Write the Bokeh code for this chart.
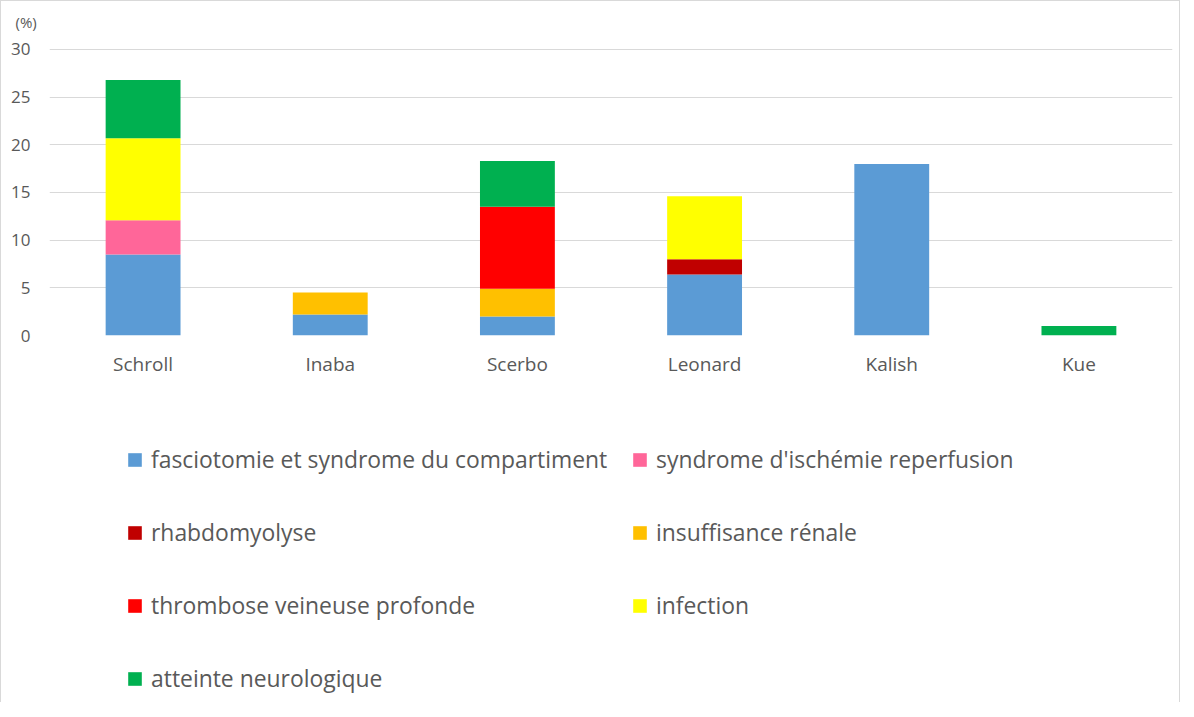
from bokeh.plotting import figure
from bokeh.models import Range1d, FactorRange, Legend, LegendItem, Title, ColumnDataSource
from bokeh.layouts import column
from bokeh.embed import file_html
from bokeh.resources import INLINE

categories = ["Schroll", "Inaba", "Scerbo", "Leonard", "Kalish", "Kue"]
series_names = [
    "fasciotomie et syndrome du compartiment",
    "syndrome d'ischémie reperfusion",
    "rhabdomyolyse",
    "insuffisance rénale",
    "thrombose veineuse profonde",
    "infection",
    "atteinte neurologique",
]
fasciotomie = [8.5, 2.2, 2.0, 6.4, 18.0, 0.0]
ischemie = [3.6, 0.0, 0.0, 0.0, 0.0, 0.0]
rhabdomyolyse = [0.0, 0.0, 0.0, 1.6, 0.0, 0.0]
insuffisance = [0.0, 2.3, 2.9, 0.0, 0.0, 0.0]
thrombose = [0.0, 0.0, 8.6, 0.0, 0.0, 0.0]
infection = [8.6, 0.0, 0.0, 6.6, 0.0, 0.0]
neurologique = [6.1, 0.0, 4.8, 0.0, 0.0, 1.0]
colors = ["#5B9BD5", "#FF6699", "#C00000", "#FFC000", "#FF0000", "#FFFF00", "#00B050"]
y_ticks = [0, 5, 10, 15, 20, 25, 30]
unit_label = "(%)"

keys = ["s0", "s1", "s2", "s3", "s4", "s5", "s6"]
data = dict(cat=categories)
for k, vals in zip(keys, [fasciotomie, ischemie, rhabdomyolyse, insuffisance,
                          thrombose, infection, neurologique]):
    data[k] = vals
source = ColumnDataSource(data)

FONT = "Open Sans"
GREY = "#595959"

# ---- main chart ----
p = figure(width=1178, height=399, x_range=FactorRange(*categories, range_padding=0),
           y_range=Range1d(0, 31.15), output_backend="svg", toolbar_location=None,
           min_border_left=48, min_border_right=7, min_border_top=37,
           min_border_bottom=65)
p.vbar_stack(keys, x="cat", width=0.4, color=colors, line_color=None, source=source)

p.outline_line_color = None
p.xgrid.grid_line_color = None
p.ygrid.grid_line_color = "#d9d9d9"
p.ygrid.grid_line_width = 1
p.yaxis.ticker = y_ticks
for ax in (p.xaxis[0], p.yaxis[0]):
    ax.axis_line_color = None
    ax.major_tick_line_color = None
    ax.minor_tick_line_color = None
    ax.major_label_text_font = FONT
    ax.major_label_text_color = GREY
p.xaxis.major_label_text_font_size = "19px"
p.yaxis.major_label_text_font_size = "17px"
p.xaxis.major_label_standoff = 9
p.yaxis.major_label_standoff = 13

p.add_layout(Title(text=unit_label, align="left", offset=-34, standoff=13,
                   text_font=FONT, text_font_size="15px", text_font_style="normal",
                   text_color=GREY), "above")

# ---- legend panel (same series, drawn outside its visible range) ----
q = figure(width=1178, height=302, x_range=FactorRange(*categories),
           y_range=Range1d(100, 200), output_backend="svg", toolbar_location=None,
           min_border=0)
q.axis.visible = False
q.grid.visible = False
q.outline_line_color = None
rq = q.vbar_stack(keys, x="cat", width=0.4, color=colors, line_color=None, source=source)

def make_legend(idx, loc):
    items = [LegendItem(label=series_names[i], renderers=[rq[i]]) for i in idx]
    lg = Legend(items=items, location=loc, orientation="vertical",
                border_line_color=None, background_fill_alpha=0,
                glyph_width=17, glyph_height=17, label_standoff=8,
                label_text_font=FONT, label_text_font_size="22.9px",
                label_text_color=GREY, label_height=14, spacing=42,
                padding=0, margin=0)
    q.add_layout(lg, "center")

make_legend([0, 2, 4, 6], (77, 8))
make_legend([1, 3, 5], (582, 81))

layout = column(p, q, spacing=0,
                styles={"border-top": "1px solid #d9d9d9", "border-left": "1px solid #d9d9d9",
                        "border-right": "1px solid #d9d9d9"})

open("out.html", "w").write(file_html(layout, INLINE))
